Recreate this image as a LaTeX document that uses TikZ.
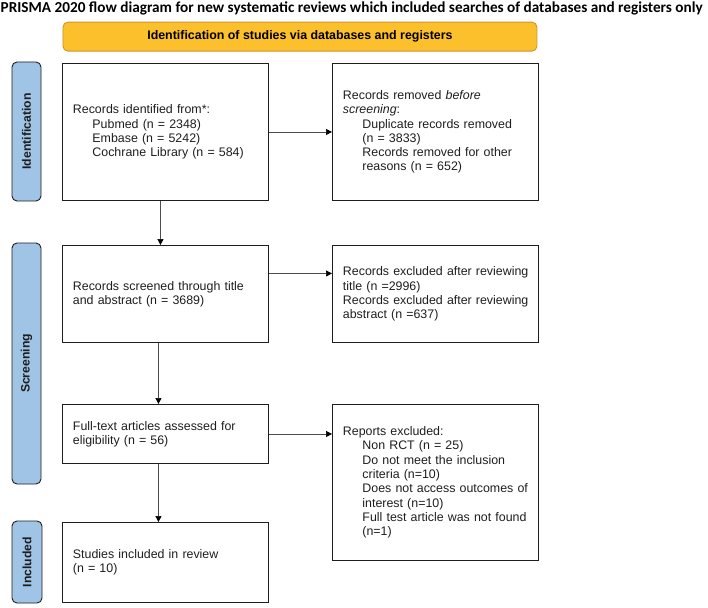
\documentclass[tikz,border=0pt]{standalone}
\usepackage{graphicx}
\usepackage{fontspec}
\setmainfont{Liberation Sans}
\newfontfamily\titlefont{Carlito}
\usetikzlibrary{arrows.meta}
\definecolor{hdrfill}{RGB}{252,192,45}
\definecolor{hdrdraw}{RGB}{205,150,40}
\definecolor{barfill}{RGB}{160,196,230}
\definecolor{inkc}{RGB}{30,30,30}
\begin{document}
\begin{tikzpicture}[x=1pt,y=-1pt,
  flowbox/.style={draw=inkc, line width=0.9pt, anchor=north west, minimum width=206pt,
    text width=185pt, inner xsep=10.5pt, inner ysep=0pt, align=left, text=inkc,
    font=\fontsize{12.4}{14.3}\selectfont},
  sidebar/.style={draw=inkc, line width=0.9pt, fill=barfill, rounded corners=5pt,
    rotate=90, inner sep=0pt, text=inkc, font=\fontsize{12.2}{14}\selectfont\bfseries},
  arr/.style={draw=black!70, line width=0.7pt, -{Triangle[length=6pt,width=6pt,color=black]}},
]
\useasboundingbox (0,0) rectangle (708,607);

% title
\node[anchor=base west, inner sep=0pt] (title) at (0.5,12.5)
  {\resizebox{702pt}{!}{\titlefont\bfseries PRISMA 2020 flow diagram for new systematic reviews which included searches of databases and registers only}};

% header
\node[draw=hdrdraw, line width=0.9pt, fill=hdrfill, rounded corners=5pt, anchor=north west,
  minimum width=474pt, minimum height=29pt, inner sep=0pt,
  font=\fontsize{12.4}{14}\selectfont\bfseries] (hdr) at (62.5,21.7)
  {Identification of studies via databases and registers};

% side bars
\node[sidebar, minimum width=139pt, minimum height=29pt] (sident) at (26.5,131.5) {Identification};
\node[sidebar, minimum width=241pt, minimum height=29pt] (sscreen) at (26.5,363.5) {Screening};
\node[sidebar, minimum width=82pt, minimum height=30pt] (sincl) at (27,562) {Included};

% boxes
\node[flowbox, minimum height=137pt] (ident) at (62,63)
  {Records identified from*:\\
   \hspace*{19.5pt}Pubmed (n = 2348)\\
   \hspace*{19.5pt}Embase (n = 5242)\\
   \hspace*{19.5pt}Cochrane Library (n = 584)};

\node[flowbox, minimum height=137pt] (removed) at (332,63)
  {Records removed \textit{before}\\
   \textit{screening}:\\
   \hspace*{19.5pt}Duplicate records removed\\
   \hspace*{19.5pt}(n = 3833)\\
   \hspace*{19.5pt}Records removed for other\\
   \hspace*{19.5pt}reasons (n = 652)};

\node[flowbox, minimum height=97pt] (screened) at (62,245)
  {Records screened through title\\
   and abstract (n = 3689)};

\node[flowbox, minimum height=97pt] (excluded) at (332,245)
  {\mbox{Records excluded after reviewing}\\
   title (n =2996)\\
   \mbox{Records excluded after reviewing}\\
   abstract (n =637)};

\node[flowbox, minimum height=59pt] (fulltext) at (62,404)
  {Full-text articles assessed for\\
   eligibility (n = 56)};

\node[flowbox, minimum height=156pt] (reports) at (332,404)
  {Reports excluded:\\
   \hspace*{19.5pt}Non RCT (n = 25)\\
   \hspace*{19.5pt}Do not meet the inclusion\\
   \hspace*{19.5pt}criteria (n=10)\\
   \hspace*{19.5pt}\mbox{Does not access outcomes of}\\
   \hspace*{19.5pt}interest (n=10)\\
   \hspace*{19.5pt}\mbox{Full test article was not found}\\
   \hspace*{19.5pt}(n=1)};

\node[flowbox, minimum height=80pt] (included) at (62,522)
  {Studies included in review\\
   (n = 10)};

% connectors
\draw[arr] (ident.east) -- (removed.west |- ident.east);
\draw[arr] ([yshift=20.5pt]screened.east) -- ([yshift=20.5pt]excluded.west);
\draw[arr] (fulltext.east) -- (reports.west |- fulltext.east);
\draw[arr] ([xshift=-5pt]ident.south) -- ([xshift=-5pt]screened.north);
\draw[arr] ([xshift=-7pt]screened.south) -- ([xshift=-7pt]fulltext.north);
\draw[arr] ([xshift=-7pt]fulltext.south) -- ([xshift=-7pt]included.north);
\end{tikzpicture}
\end{document}
